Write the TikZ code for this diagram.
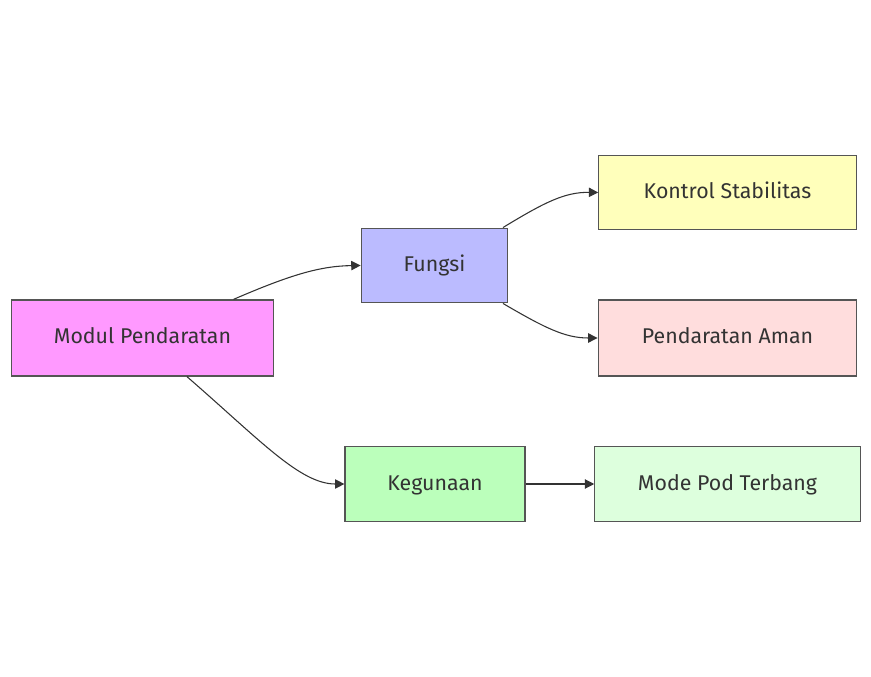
\documentclass[tikz,border=0pt]{standalone}
\usepackage{fontspec}
\setmainfont{Fira Sans}
\usetikzlibrary{arrows.meta}
\definecolor{ink}{HTML}{333333}
\definecolor{rim}{HTML}{555555}
\tikzset{
  box/.style={draw=rim,line width=0.9pt,inner sep=0pt,text=ink,font=\fontsize{16}{19}\selectfont,text height=1.1em,text depth=0.2em},
  link/.style={draw=ink,line width=0.8pt,-{Triangle[length=7pt,width=7pt]}}
}
\begin{document}
\begin{tikzpicture}[x=0.75pt,y=-0.75pt]
        \useasboundingbox (0,0) rectangle (871,677);
        %left
        \node[box,fill={rgb,255:red,255;green,153;blue,255},minimum width=197pt,minimum height=57pt] (modul) at (142.5,338) {Modul Pendaratan};
        %middle
        \node[box,fill={rgb,255:red,187;green,187;blue,255},minimum width=110pt,minimum height=56pt] (fungsi) at (434.5,265.5) {Fungsi};
        \node[box,fill={rgb,255:red,187;green,255;blue,187},minimum width=135pt,minimum height=56pt] (guna) at (435,484) {Kegunaan};
        %right
        \node[box,fill={rgb,255:red,255;green,255;blue,187},minimum width=193pt,minimum height=56pt] (kontrol) at (727.5,192.5) {Kontrol Stabilitas};
        \node[box,fill={rgb,255:red,255;green,221;blue,221},minimum width=194pt,minimum height=57pt] (aman) at (727.5,338) {Pendaratan Aman};
        \node[box,fill={rgb,255:red,221;green,255;blue,221},minimum width=199pt,minimum height=56pt] (pod) at (727.5,484) {Mode Pod Terbang};
        %edges
        \draw[link] (modul.23) .. controls (290,275) and (320,266) .. (fungsi.west);
        \draw[link] (modul.-41) .. controls (260,440) and (300,484) .. (guna.west);
        \draw[link] (fungsi.29) .. controls (545,202) and (565,192) .. (kontrol.west);
        \draw[link] (fungsi.-29) .. controls (545,328) and (565,338) .. (aman.west);
        \draw[link] (guna) -- (pod);
\end{tikzpicture}
\end{document}
